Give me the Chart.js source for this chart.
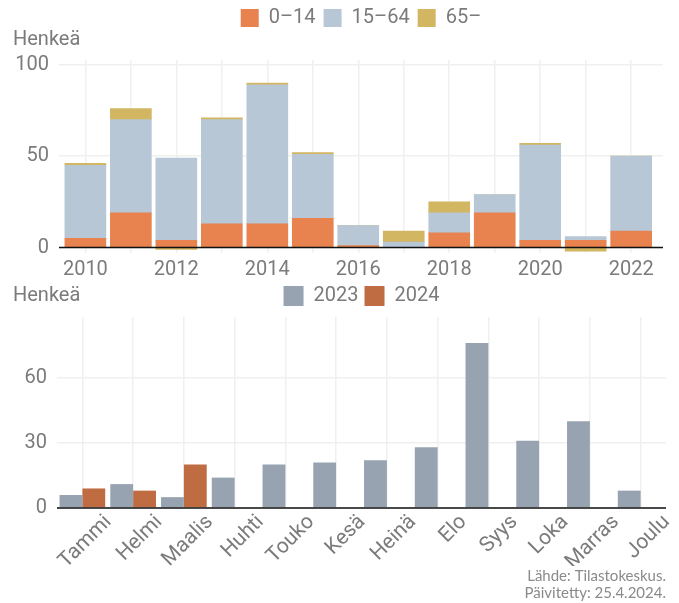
<!DOCTYPE html>
<html lang="fi">
<head>
<meta charset="utf-8">
<title>Henkeä</title>
<script src="https://cdn.jsdelivr.net/npm/chart.js@4.4.1/dist/chart.umd.min.js"></script>
<style>
  html, body { margin: 0; padding: 0; background: #fff; }
  #wrap { position: relative; width: 679px; height: 603px; }
  .box { position: absolute; left: 0; width: 679px; }
  #topBox { top: 0; height: 291px; }
  #bottomBox { top: 280px; height: 323px; }
</style>
</head>
<body>
<div id="wrap">
  <div class="box" id="topBox"><canvas id="topChart"></canvas></div>
  <div class="box" id="bottomBox"><canvas id="bottomChart"></canvas></div>
</div>
<script>
// vuosittain, ikäryhmittäin
var years = [2010, 2011, 2012, 2013, 2014, 2015, 2016, 2017, 2018, 2019, 2020, 2021, 2022];
var age0to14 = [5, 19, 4, 13, 13, 16, 1, 0, 8, 19, 4, 4, 9];
var age15to64 = [40, 51, 45, 57, 76, 35, 11, 3, 11, 10, 52, 2, 41];
var age65plus = [1, 6, -1, 1, 1, 1, 0, 6, 6, 0, 1, -2, 0];

// kuukausittain
var months = ['Tammi', 'Helmi', 'Maalis', 'Huhti', 'Touko', 'Kesä', 'Heinä', 'Elo', 'Syys', 'Loka', 'Marras', 'Joulu'];
var month2023 = [6, 11, 5, 14, 20, 21, 22, 28, 76, 31, 40, 8];
var month2024 = [9, 8, 20, null, null, null, null, null, null, null, null, null];

var sourceText = ['Lähde: Tilastokeskus.', 'Päivitetty: 25.4.2024.'];

var textGrey = '#7b7b7b';
var gridGrey = '#f0f0f0';

Chart.defaults.font.family = 'Roboto';
Chart.defaults.font.size = 20;
Chart.defaults.color = textGrey;
Chart.defaults.animation = false;

// musta nollaviiva pylväiden päälle
var zeroLine = {
    id: 'zeroLine',
    afterDatasetsDraw: function (chart) {
        var ctx = chart.ctx, area = chart.chartArea;
        var y = chart.scales.y.getPixelForValue(0);
        ctx.save();
        ctx.strokeStyle = '#111';
        ctx.lineWidth = 1.5;
        ctx.beginPath();
        ctx.moveTo(area.left, y);
        ctx.lineTo(area.right, y);
        ctx.stroke();
        ctx.restore();
    }
};

// yksikköteksti vasempaan yläkulmaan
var unitLabel = {
    id: 'unitLabel',
    afterDraw: function (chart, args, opts) {
        var ctx = chart.ctx;
        ctx.save();
        ctx.font = '20px Roboto';
        ctx.fillStyle = textGrey;
        ctx.textBaseline = 'middle';
        ctx.textAlign = 'left';
        ctx.fillText(opts.text, opts.x, opts.y);
        ctx.restore();
    }
};

// lisää tilaa selitteen alle
var legendGap = {
    id: 'legendGap',
    beforeInit: function (chart, args, opts) {
        var fit = chart.legend.fit;
        chart.legend.fit = function () {
            fit.call(this);
            this.height += opts.extra;
        };
    }
};

new Chart(document.getElementById('topChart'), {
    type: 'bar',
    data: {
        labels: years,
        datasets: [
            { label: '0–14', data: age0to14, backgroundColor: '#e8834f' },
            { label: '15–64', data: age15to64, backgroundColor: '#b7c7d6' },
            { label: '65–', data: age65plus, backgroundColor: '#d2b662' }
        ]
    },
    options: {
        responsive: true,
        maintainAspectRatio: false,
        layout: { padding: { left: 0, right: 16, top: 0, bottom: 4 } },
        datasets: { bar: { barThickness: 41 } },
        plugins: {
            legend: {
                position: 'top',
                fullSize: false,
                labels: { boxWidth: 18, boxHeight: 18, padding: 8, color: textGrey, font: { size: 20 } }
            },
            tooltip: { enabled: false },
            legendGap: { extra: 22 },
            unitLabel: { text: 'Henkeä', x: 13, y: 40 }
        },
        scales: {
            x: {
                type: 'linear',
                stacked: true,
                offset: false,
                min: 2009.42,
                max: 2022.7,
                ticks: {
                    stepSize: 1,
                    includeBounds: false,
                    autoSkip: false,
                    maxRotation: 0,
                    padding: 5,
                    callback: function (v) { return v % 2 === 0 ? String(v) : ''; }
                },
                grid: { color: gridGrey, lineWidth: 1.5, drawTicks: false, offset: false },
                border: { display: false }
            },
            y: {
                stacked: true,
                min: -3,
                max: 102.6,
                afterFit: function (scale) { scale.width = 59; },
                ticks: { stepSize: 50, includeBounds: false, padding: 10 },
                grid: { color: gridGrey, lineWidth: 1.5, drawTicks: false },
                border: { display: false }
            }
        }
    },
    plugins: [zeroLine, unitLabel, legendGap]
});

new Chart(document.getElementById('bottomChart'), {
    type: 'bar',
    data: {
        labels: months,
        datasets: [
            { label: '2023', data: month2023, backgroundColor: '#97a3b1' },
            { label: '2024', data: month2024, backgroundColor: '#bf6c42' }
        ]
    },
    options: {
        responsive: true,
        maintainAspectRatio: false,
        layout: { padding: { left: 0, right: 13, top: 0, bottom: 2 } },
        datasets: { bar: { categoryPercentage: 0.9, barPercentage: 1 } },
        plugins: {
            legend: {
                position: 'top',
                fullSize: false,
                labels: { boxWidth: 20, boxHeight: 20, padding: 6, color: textGrey, font: { size: 20 } }
            },
            subtitle: {
                display: true,
                position: 'bottom',
                align: 'end',
                text: sourceText,
                color: '#8a8a8a',
                font: { family: 'Lato', size: 15, lineHeight: 1.1 },
                padding: { top: 2, bottom: 0 }
            },
            tooltip: { enabled: false },
            legendGap: { extra: 1 },
            unitLabel: { text: 'Henkeä', x: 13, y: 16 }
        },
        scales: {
            x: {
                afterFit: function (scale) { scale.height = 58; },
                ticks: { minRotation: 45, maxRotation: 45, autoSkip: false, padding: 2, labelOffset: 26, font: { size: 21 } },
                grid: { color: gridGrey, lineWidth: 1.5, drawTicks: false, offset: false },
                border: { display: false }
            },
            y: {
                min: 0,
                max: 88,
                afterFit: function (scale) { scale.width = 57; },
                ticks: { stepSize: 30, includeBounds: false, padding: 10 },
                grid: { color: gridGrey, lineWidth: 1.5, drawTicks: false },
                border: { display: false }
            }
        }
    },
    plugins: [zeroLine, unitLabel, legendGap]
});
</script>
</body>
</html>
